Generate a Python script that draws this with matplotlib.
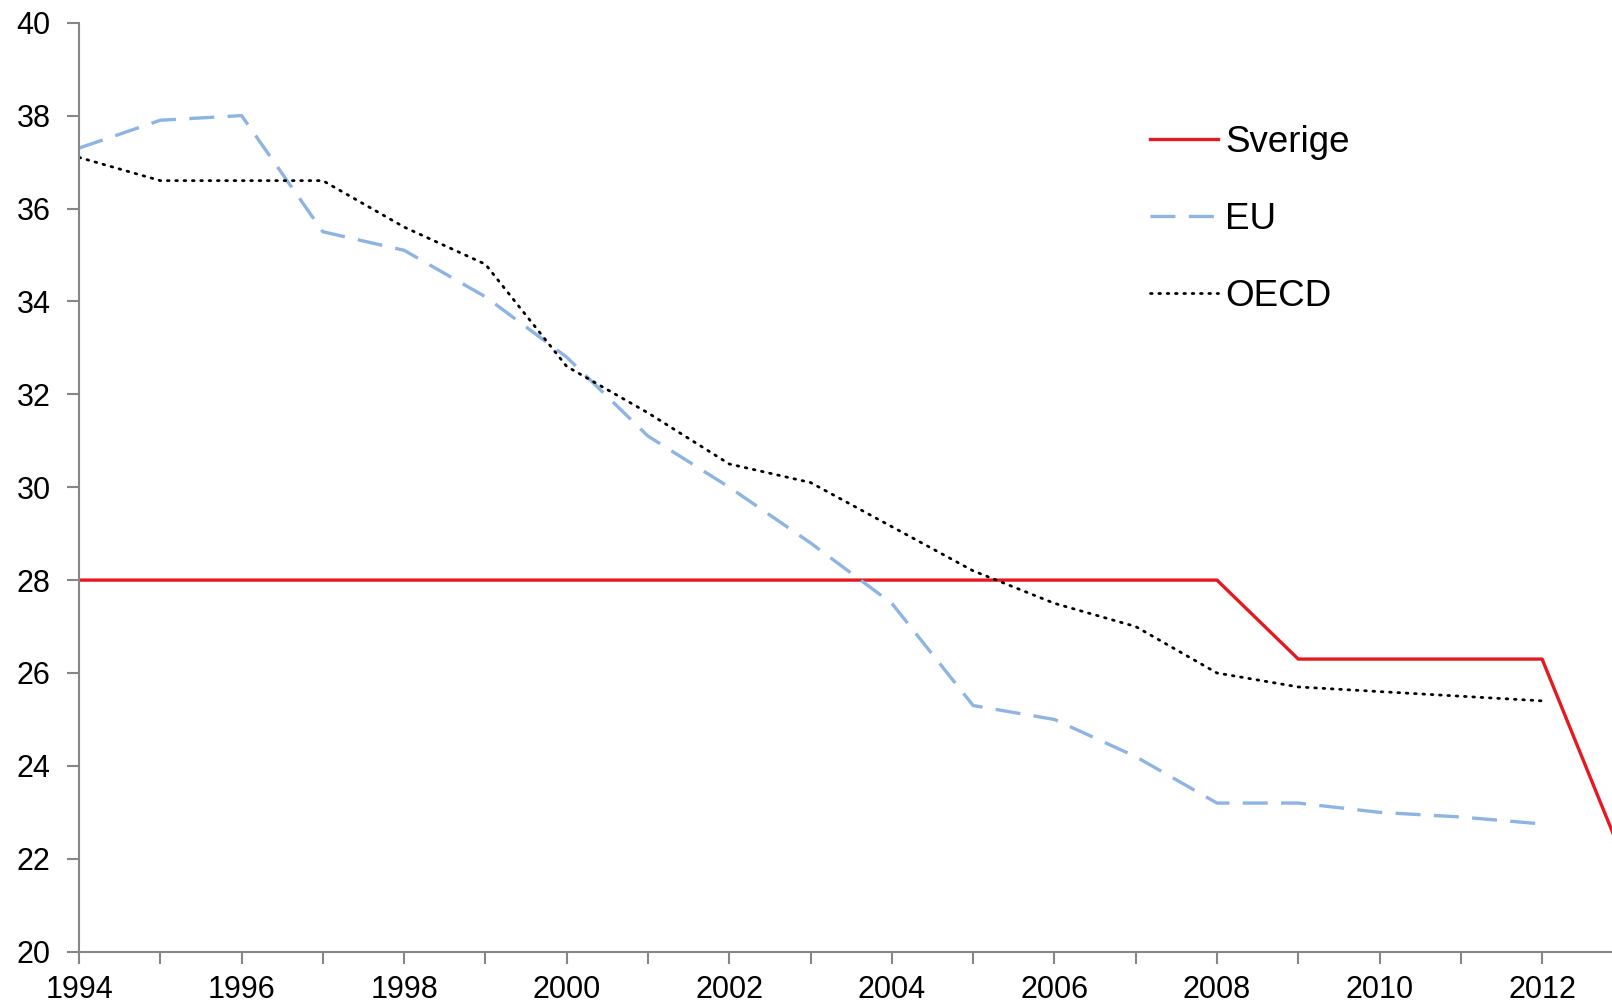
import numpy as np
import matplotlib.pyplot as plt

plt.rcParams['font.family'] = ['Liberation Sans', 'DejaVu Sans']

years_se = list(range(1994, 2014))
sverige = [28.0] * 15 + [26.3, 26.3, 26.3, 26.3, 22.0]

years = list(range(1994, 2013))
eu = [37.3, 37.9, 38.0, 35.5, 35.1, 34.1, 32.8, 31.1, 30.0, 28.8,
      27.5, 25.3, 25.0, 24.2, 23.2, 23.2, 23.0, 22.9, 22.75]
oecd = [37.1, 36.6, 36.6, 36.6, 35.6, 34.8, 32.6, 31.6, 30.5, 30.1,
        29.15, 28.2, 27.5, 27.0, 26.0, 25.7, 25.6, 25.5, 25.4]

fig = plt.figure(figsize=(16.12, 10.07), dpi=100)
ax = fig.add_axes([79 / 1612, 1 - 951.7 / 1007, 1 - 79 / 1612, (951.7 - 22.7) / 1007])

ax.plot(years_se, sverige, color='#E5191F', lw=2.4, label='Sverige')
ax.plot(years, eu, color='#8DB4E2', lw=2.4, dashes=(7.5, 4), label='EU')
ax.plot(years, oecd, color='black', lw=2.0, dashes=(0.6, 2.4),
        dash_capstyle='round', label='OECD')

ax.set_xlim(1994, 2012.86)
ax.set_ylim(20, 40)
ax.set_yticks(np.arange(20, 41, 2))
ax.set_xticks(range(1994, 2013))
ax.set_xticklabels([str(y) if y % 2 == 0 else '' for y in range(1994, 2013)])

for s in ['top', 'right']:
    ax.spines[s].set_visible(False)
for s in ['left', 'bottom']:
    ax.spines[s].set_color('#868686')
    ax.spines[s].set_linewidth(1.5)
ax.tick_params(axis='both', colors='#868686', width=1.5, length=8.5,
               labelsize=22, labelcolor='black')
ax.tick_params(axis='x', pad=8)
ax.tick_params(axis='y', pad=12)

leg = ax.legend(loc='upper left', bbox_to_anchor=(0.689, 0.906), frameon=False,
                fontsize=26.5, handlelength=1.85, handletextpad=0.2,
                labelspacing=1.14, borderaxespad=0)

fig.savefig('out.png', dpi=100)
